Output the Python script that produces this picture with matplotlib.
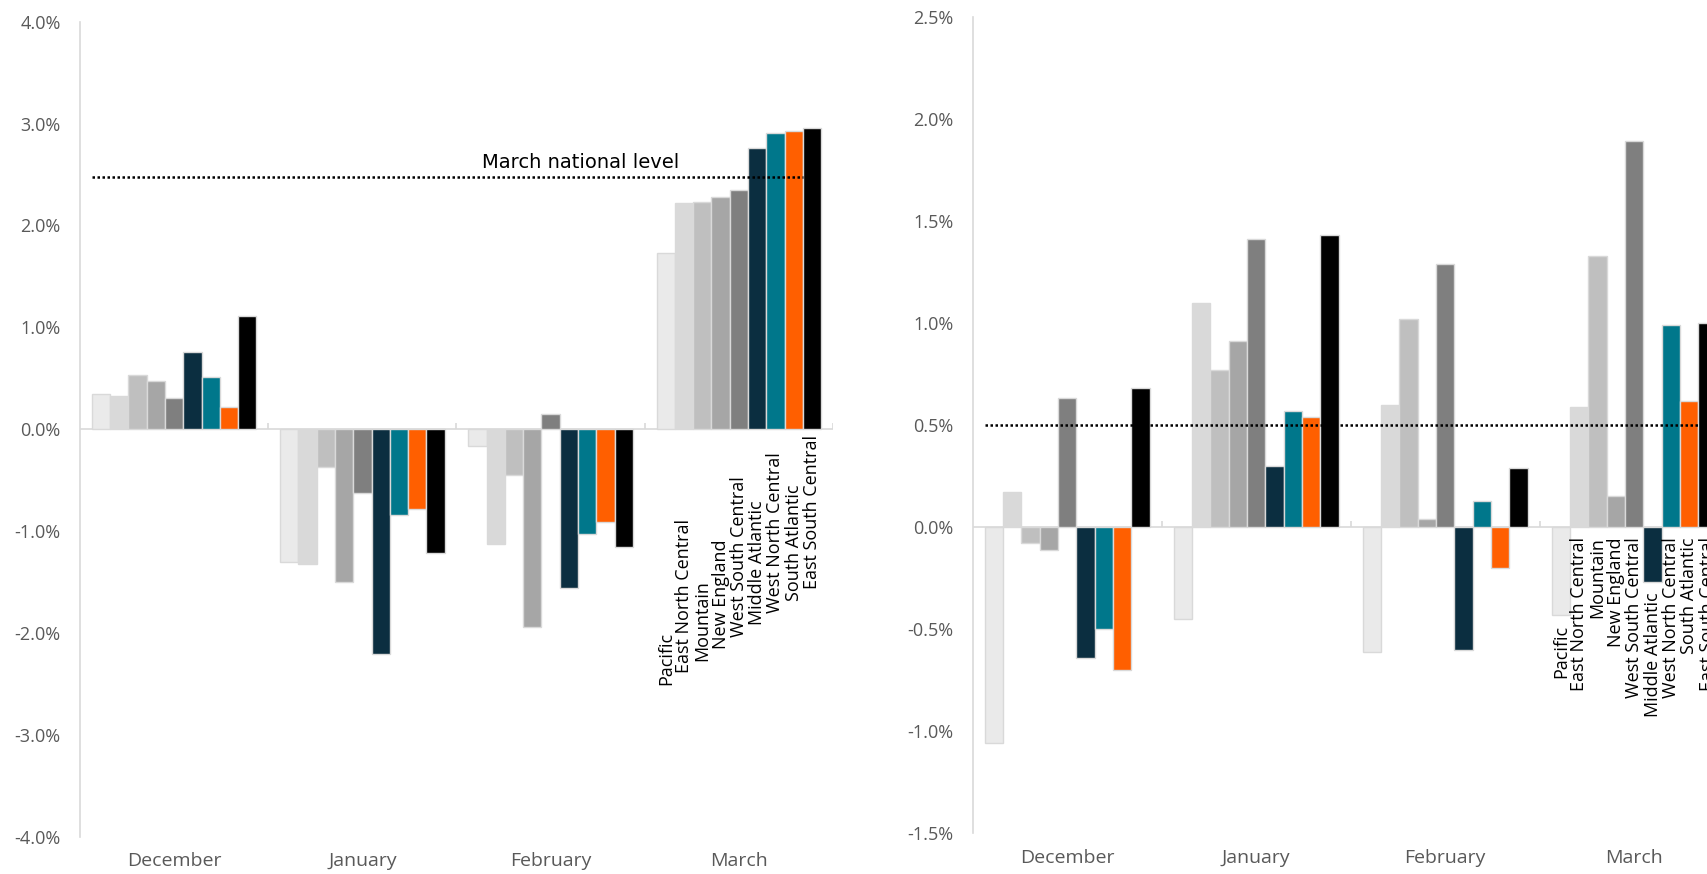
import numpy as np
import matplotlib
matplotlib.use("Agg")
import matplotlib.pyplot as plt

plt.rcParams['font.family'] = ['Open Sans', 'DejaVu Sans']

# ---------------- data ----------------
months = ["December", "January", "February", "March"]
regions = ["Pacific", "East North Central", "Mountain", "New England",
           "West South Central", "Middle Atlantic", "West North Central",
           "South Atlantic", "East South Central"]
colors = ["#EAEAEA", "#D9D9D9", "#BFBFBF", "#A6A6A6", "#7F7F7F",
          "#0B2E40", "#00778B", "#FF5F00", "#000000"]

# Left chart (values in %), rows = regions, columns = months
left_pacific = [0.35, -1.30, -0.16, 1.73]
left_enc     = [0.33, -1.32, -1.13, 2.22]
left_mountain= [0.53, -0.37, -0.45, 2.23]
left_ne      = [0.47, -1.50, -1.94, 2.28]
left_wsc     = [0.31, -0.63,  0.15, 2.35]
left_ma      = [0.76, -2.21, -1.56, 2.76]
left_wnc     = [0.51, -0.84, -1.03, 2.91]
left_sa      = [0.22, -0.78, -0.91, 2.93]
left_esc     = [1.11, -1.22, -1.16, 2.96]
left_values = [left_pacific, left_enc, left_mountain, left_ne, left_wsc,
               left_ma, left_wnc, left_sa, left_esc]
left_reference = 2.48
left_reference_label = "March national level"
left_yticks = [-4, -3, -2, -1, 0, 1, 2, 3, 4]

# Right chart (values in %)
right_pacific = [-1.06, -0.45, -0.61, -0.43]
right_enc     = [ 0.17,  1.10,  0.60,  0.59]
right_mountain= [-0.08,  0.77,  1.02,  1.33]
right_ne      = [-0.11,  0.91,  0.04,  0.15]
right_wsc     = [ 0.63,  1.41,  1.29,  1.89]
right_ma      = [-0.64,  0.30, -0.60, -0.27]
right_wnc     = [-0.50,  0.57,  0.13,  0.99]
right_sa      = [-0.70,  0.54, -0.20,  0.62]
right_esc     = [ 0.68,  1.43,  0.29,  1.00]
right_values = [right_pacific, right_enc, right_mountain, right_ne, right_wsc,
                right_ma, right_wnc, right_sa, right_esc]
right_reference = 0.50
right_yticks = [-1.5, -1.0, -0.5, 0.0, 0.5, 1.0, 1.5, 2.0, 2.5]

# ---------------- layout / style ----------------
W, H = 1708, 874
fig = plt.figure(figsize=(W / 100, H / 100), dpi=100)

AXIS_COLOR = "#D9D9D9"
TICK_COLOR = "#595959"
BAR_W = 0.097
n = len(regions)
x_cat = np.arange(len(months)) + 0.5
offsets = (np.arange(n) - (n - 1) / 2) * BAR_W


def style_axes(ax, yticks, sep_h):
    ax.set_xlim(0, len(months))
    ax.set_ylim(yticks[0], yticks[-1])
    for s in ["top", "right", "bottom"]:
        ax.spines[s].set_visible(False)
    ax.spines["left"].set_color(AXIS_COLOR)
    ax.spines["left"].set_linewidth(1.2)
    ax.set_yticks(yticks)
    ax.set_yticklabels([f"{t:.1f}%" for t in yticks])
    ax.tick_params(axis="y", length=0, pad=14, labelsize=13, labelcolor=TICK_COLOR)
    ax.set_xticks(x_cat)
    ax.set_xticklabels(months)
    ax.tick_params(axis="x", length=0, pad=11, labelsize=14, labelcolor=TICK_COLOR)
    ax.axhline(0, color=AXIS_COLOR, lw=1.2, zorder=1)
    bounds = np.arange(1, len(months) + 1)
    ax.vlines(bounds, 0, sep_h, color=AXIS_COLOR, lw=1.2, zorder=1)


def draw_bars(ax, values):
    for i in range(n):
        ax.bar(x_cat + offsets[i], values[i], width=BAR_W, color=colors[i],
               edgecolor="#D9D9D9", linewidth=1.0, zorder=2)


# Left chart
axL = fig.add_axes([80 / W, 1 - 836.7 / H, 753 / W, (836.7 - 21.7) / H])
style_axes(axL, left_yticks, 0.06)
draw_bars(axL, left_values)
x_start = x_cat[0] + offsets[0] - BAR_W / 2
x_end = x_cat[-1] + offsets[-1] - BAR_W / 2
axL.plot([x_start, x_end], [left_reference, left_reference], color="black",
         lw=1.8, linestyle=(0, (1, 1)), zorder=3)
axL.text(2.66, left_reference + 0.08, left_reference_label, ha="center",
         va="baseline", fontsize=14, family=["DejaVu Sans"], color="black", zorder=4)
for i, name in enumerate(regions):
    axL.text(x_cat[-1] + offsets[i], -2.51 + i * 0.118, name, rotation=90,
             ha="center", va="bottom", fontsize=13, color="black")

# Right chart (extends past the right figure edge, as in the reference)
axR = fig.add_axes([972.7 / W, 1 - 833.3 / H, 756 / W, (833.3 - 16.7) / H])
style_axes(axR, right_yticks, 0.03)
draw_bars(axR, right_values)
axR.plot([x_start, len(months)], [right_reference, right_reference], color="black",
         lw=1.8, linestyle=(0, (1, 1)), zorder=3, clip_on=False)
for i, name in enumerate(regions):
    v = right_values[i][-1]
    axR.text(x_cat[-1] + offsets[i], min(0, v) - 0.05, name, rotation=90,
             ha="center", va="top", fontsize=13, color="black")

fig.savefig("out.png", dpi=100)
